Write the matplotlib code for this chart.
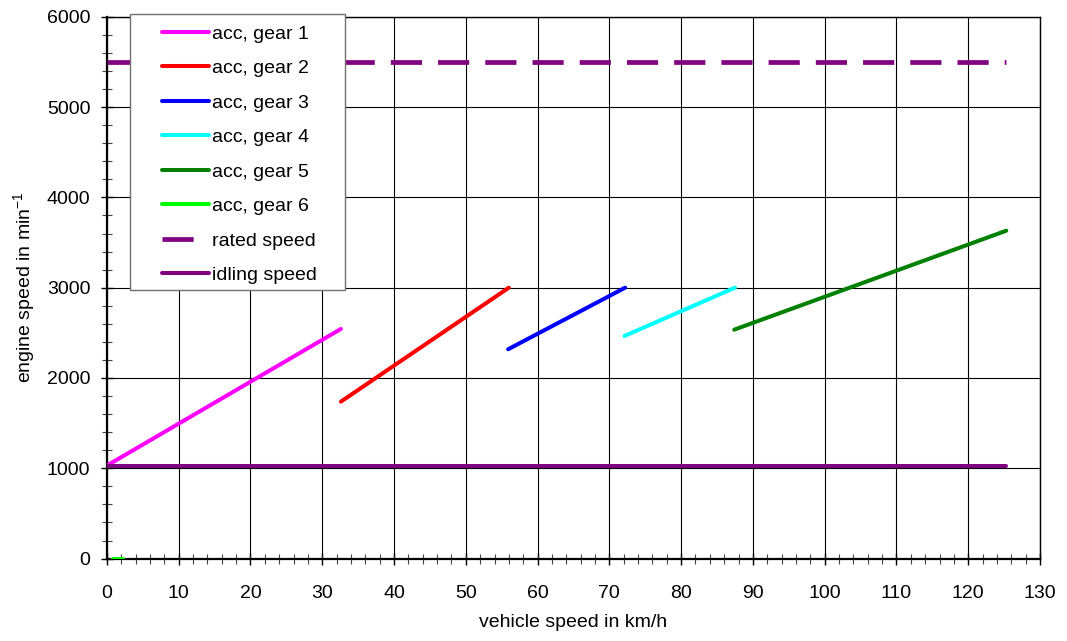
import matplotlib
matplotlib.use('Agg')
import matplotlib.pyplot as plt
from matplotlib.ticker import MultipleLocator
from matplotlib.patches import Rectangle

plt.rcParams['font.family'] = ['Liberation Sans', 'DejaVu Sans']
plt.rcParams['font.size'] = 14
plt.rcParams['mathtext.fontset'] = 'custom'
plt.rcParams['mathtext.rm'] = 'Liberation Sans'
plt.rcParams['mathtext.it'] = 'Liberation Sans:italic'

# acceleration lines per gear (vehicle speed km/h, engine speed 1/min)
gear1_v = [0.0, 32.6]
gear1_n = [1030, 2543]
gear2_v = [32.6, 56.0]
gear2_n = [1738, 3000]
gear3_v = [55.9, 72.2]
gear3_n = [2318, 3000]
gear4_v = [72.1, 87.5]
gear4_n = [2465, 3000]
gear5_v = [87.4, 125.3]
gear5_n = [2535, 3631]
gear6_v = [0.9, 2.2]
gear6_n = [0, 0]

rated_v = [0.0, 125.3]
rated_n = [5500, 5500]
idle_v = [0.0, 125.3]
idle_n = [1020, 1020]

labels = ['acc, gear 1', 'acc, gear 2', 'acc, gear 3', 'acc, gear 4',
          'acc, gear 5', 'acc, gear 6', 'rated speed', 'idling speed']
colors = ['#FF00FF', '#FF0000', '#0000FF', '#00FFFF',
          '#008000', '#00FF00', '#800080', '#800080']

fig = plt.figure(figsize=(10.67, 6.41), dpi=100)
ax = fig.add_axes([0.1002, 0.1286, 0.8745, 0.8452])

series = [(gear1_v, gear1_n), (gear2_v, gear2_n), (gear3_v, gear3_n),
          (gear4_v, gear4_n), (gear5_v, gear5_n), (gear6_v, gear6_n)]
handles = []
for (v, n), c, lab in zip(series, colors[:6], labels[:6]):
    h, = ax.plot(v, n, color=c, lw=2.9, solid_capstyle='round', label=lab, zorder=3)
    handles.append(h)

h, = ax.plot(rated_v, rated_n, color=colors[6], lw=3.4, dashes=(6.6, 3.4),
             dash_capstyle='butt', label=labels[6], zorder=3)
handles.append(h)
h, = ax.plot(idle_v, idle_n, color=colors[7], lw=2.9, solid_capstyle='round',
             label=labels[7], zorder=3)
handles.append(h)

ax.set_xlim(0, 130)
ax.set_ylim(0, 6000)
ax.xaxis.set_major_locator(MultipleLocator(10))
ax.xaxis.set_minor_locator(MultipleLocator(2))
ax.yaxis.set_major_locator(MultipleLocator(1000))
ax.yaxis.set_minor_locator(MultipleLocator(200))
ax.grid(True, which='major', color='black', lw=0.8)
ax.set_axisbelow(True)

ax.tick_params(which='major', direction='inout', length=8, width=1, pad=15, colors='black')
ax.tick_params(axis='y', which='major', pad=8)
ax.tick_params(which='minor', direction='inout', length=7, width=0.8, color='#444444')
for s in ax.spines.values():
    s.set_linewidth(1.0)
ax.spines['left'].set_linewidth(1.6)
ax.spines['bottom'].set_linewidth(1.6)

ax.set_xlabel('vehicle speed in km/h', labelpad=9)
ax.set_ylabel('engine speed in min$^{-1}$', labelpad=7)

# legend box
frame = Rectangle((130 / 1067, 1 - 290 / 641), 215 / 1067, 276 / 641,
                  transform=fig.transFigure, facecolor='white',
                  edgecolor='#707070', lw=1.0, zorder=5)
fig.add_artist(frame)
leg = fig.legend(handles, labels, loc='upper left',
                 bbox_to_anchor=(162 / 1067, 1 - 25.0 / 641),
                 frameon=False, borderpad=0, borderaxespad=0,
                 handlelength=2.42, handletextpad=0.15, labelspacing=0.87,
                 fontsize=14)
leg.set_zorder(6)

fig.savefig('out.png', dpi=100)
